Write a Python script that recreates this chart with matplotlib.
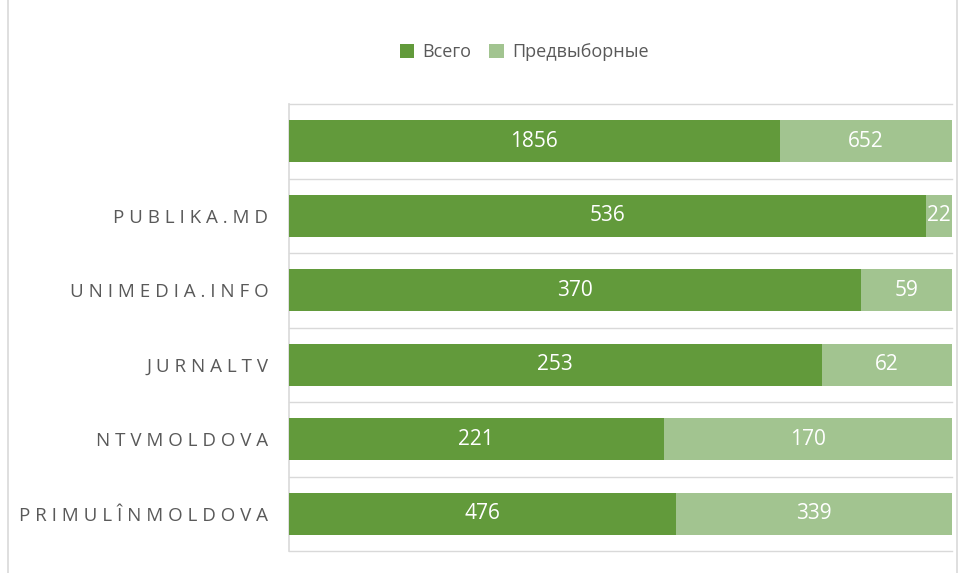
import numpy as np
import matplotlib.pyplot as plt
from matplotlib.lines import Line2D

plt.rcParams['font.family'] = ['Open Sans', 'DejaVu Sans']

# categories from bottom to top
sites = ["PRIMULÎNMOLDOVA", "NTVMOLDOVA", "JURNALTV", "UNIMEDIA.INFO", "PUBLIKA.MD", ""]
total = np.array([476, 221, 253, 370, 536, 1856])
election = np.array([339, 170, 62, 59, 22, 652])

dark = "#629A3B"
light = "#A2C490"
grid_col = "#D9D9D9"

# 100% stacked shares
s = total + election
share_total = total / s
share_elec = election / s

fig = plt.figure(figsize=(9.72, 5.73), dpi=100)
ax = fig.add_axes([289/972, 1 - 551/573, 663/972, 447/573])

y = np.arange(len(sites))
b1 = ax.barh(y, share_total, height=0.56, color=dark, label="Всего", zorder=3)
b2 = ax.barh(y, share_elec, left=share_total, height=0.56, color=light,
             label="Предвыборные", zorder=3)

ax.bar_label(b1, labels=[str(v) for v in total], label_type='center',
             color='white', fontsize=15)
ax.bar_label(b2, labels=[str(v) for v in election], label_type='center',
             color='white', fontsize=15)

ax.set_xlim(0, 1)
ax.set_ylim(-0.5, len(sites) - 0.5)

# spaced-out category labels
ax.set_yticks(y, [" ".join(list(n)) for n in sites])
ax.tick_params(axis='y', length=0, pad=15, labelsize=13.5, labelcolor="#595959")
ax.set_xticks([])

for k in range(len(sites) + 1):
    ax.axhline(k - 0.5, color=grid_col, lw=1.0, zorder=1, clip_on=False)

for side in ['top', 'bottom', 'right']:
    ax.spines[side].set_visible(False)
ax.spines['left'].set_color(grid_col)
ax.spines['left'].set_linewidth(1.2)

# outer chart border lines
for xp in [8, 957]:
    fig.add_artist(Line2D([xp/972, xp/972], [0, 1], color=grid_col, lw=1.2,
                          transform=fig.transFigure))

fig.legend(loc='center', bbox_to_anchor=(524/972, 1 - 52/573), ncol=2,
           frameon=False, fontsize=13, handlelength=0.8, handleheight=0.8,
           handletextpad=0.45, columnspacing=1.0, labelcolor="#595959")

fig.savefig("out.png", dpi=100)
